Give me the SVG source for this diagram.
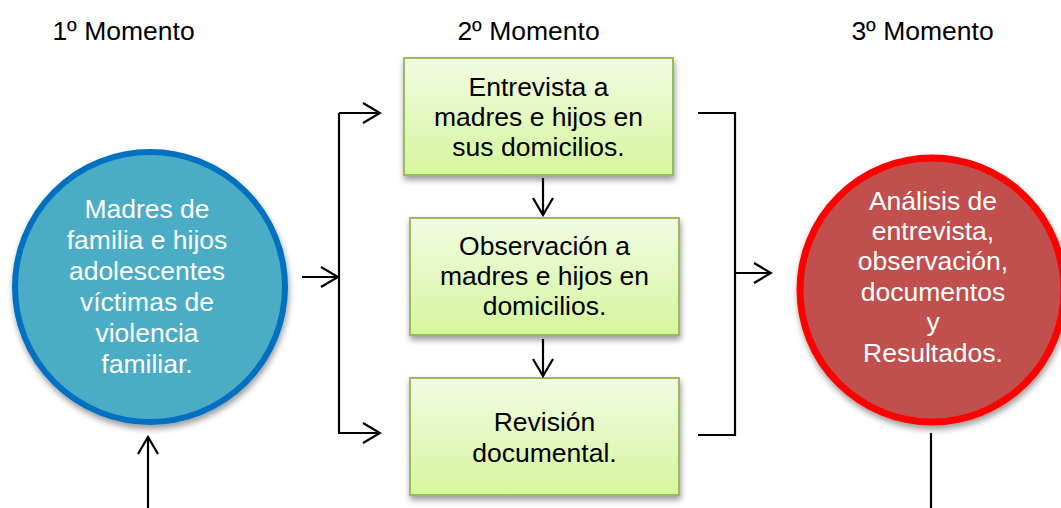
<svg xmlns="http://www.w3.org/2000/svg" width="1061" height="508" viewBox="0 0 1061 508">
<style>
.lbl{font-family:"Liberation Sans",Arial,sans-serif;font-size:26.5px;fill:#000;text-anchor:middle}
.wt{font-family:"Liberation Sans",Arial,sans-serif;font-size:26.5px;fill:#fff;text-anchor:middle}
.bx{fill:url(#g);stroke:#9bbb59;stroke-width:2;filter:url(#sh)}
.ln{fill:none;stroke:#000;stroke-width:2.2}
.ar{fill:none;stroke:#000;stroke-width:2.2;marker-end:url(#m)}
</style>
<defs>
<linearGradient id="g" x1="0" y1="0" x2="0" y2="1">
<stop offset="0" stop-color="#f1fce3"/>
<stop offset="1" stop-color="#d5f59d"/>
</linearGradient>
<filter id="sh" x="-20%" y="-20%" width="140%" height="150%">
<feGaussianBlur in="SourceAlpha" stdDeviation="3"/>
<feOffset dx="1" dy="4" result="b"/>
<feComponentTransfer><feFuncA type="linear" slope="0.4"/></feComponentTransfer>
<feMerge><feMergeNode/><feMergeNode in="SourceGraphic"/></feMerge>
</filter>
<marker id="m" markerWidth="20" markerHeight="24" refX="18" refY="12" orient="auto" markerUnits="userSpaceOnUse">
<path d="M1,2 L18,12 L1,22" fill="none" stroke="#000" stroke-width="2.2"/>
</marker>
</defs>
<g id="titles">
<text class="lbl" x="123.5" y="40">1º Momento</text>
<text class="lbl" x="528.5" y="40">2º Momento</text>
<text class="lbl" x="922.5" y="40">3º Momento</text>
</g>
<g id="n1">
<circle cx="150" cy="287" r="135" fill="#4bacc6" stroke="#0070c0" stroke-width="6" filter="url(#sh)"/>
<text class="wt" x="147" y="218">Madres de</text>
<text class="wt" x="147" y="249">familia e hijos</text>
<text class="wt" x="147" y="280">adolescentes</text>
<text class="wt" x="147" y="311">víctimas de</text>
<text class="wt" x="147" y="342">violencia</text>
<text class="wt" x="147" y="373">familiar.</text>
</g>
<g id="n2">
<rect class="bx" x="404" y="58" width="269" height="117"/>
<text class="lbl" x="538.5" y="96">Entrevista a</text>
<text class="lbl" x="538.5" y="126">madres e hijos en</text>
<text class="lbl" x="538.5" y="156">sus domicilios.</text>
</g>
<g id="n3">
<rect class="bx" x="410" y="218" width="269" height="117"/>
<text class="lbl" x="544.5" y="255">Observación a</text>
<text class="lbl" x="544.5" y="285">madres e hijos en</text>
<text class="lbl" x="544.5" y="315">domicilios.</text>
</g>
<g id="n4">
<rect class="bx" x="410" y="378" width="269" height="117"/>
<text class="lbl" x="544.5" y="431">Revisión</text>
<text class="lbl" x="544.5" y="462">documental.</text>
</g>
<g id="n5">
<circle cx="932" cy="290" r="132" fill="#c0504d" stroke="#ff0000" stroke-width="7" filter="url(#sh)"/>
<text class="wt" x="933" y="210">Análisis de</text>
<text class="wt" x="933" y="240">entrevista,</text>
<text class="wt" x="933" y="270">observación,</text>
<text class="wt" x="933" y="301">documentos</text>
<text class="wt" x="933" y="331">y</text>
<text class="wt" x="933" y="362">Resultados.</text>
</g>
<g id="connectors">
<line class="ar" x1="302" y1="277" x2="338" y2="277"/>
<path class="ln" d="M339,113 L339,434"/>
<line class="ar" x1="339" y1="113" x2="380" y2="113"/>
<line class="ar" x1="339" y1="433" x2="380" y2="433"/>
<line class="ar" x1="543" y1="178" x2="543" y2="215"/>
<line class="ar" x1="543" y1="339" x2="543" y2="376"/>
<path class="ln" d="M698,113 L735,113 L735,435 L698,435"/>
<line class="ar" x1="735" y1="273" x2="771" y2="273"/>
<line class="ar" x1="148" y1="508" x2="148" y2="437"/>
<line class="ln" x1="931" y1="433" x2="931" y2="508"/>
</g>
</svg>
